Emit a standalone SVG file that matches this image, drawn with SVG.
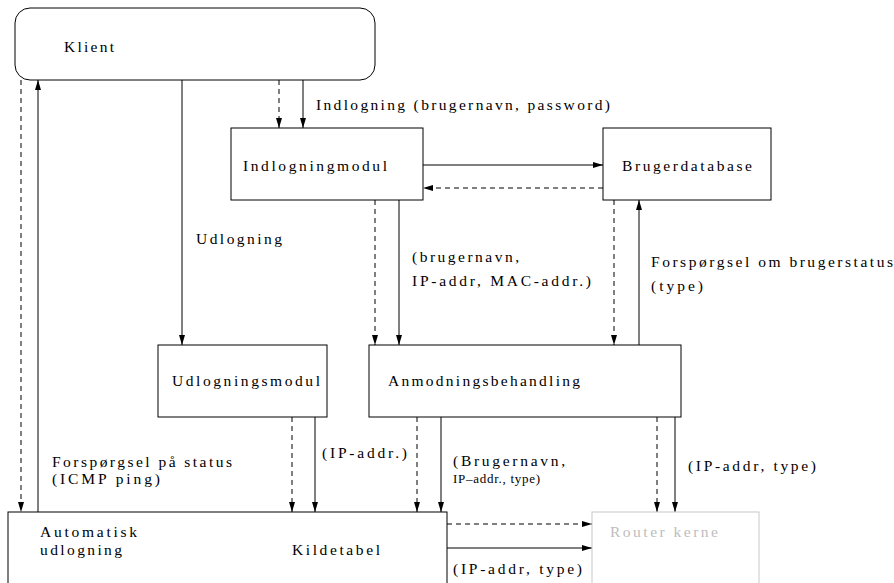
<svg xmlns="http://www.w3.org/2000/svg" width="894" height="583" viewBox="0 0 894 583">
<style>
  .box { fill: #fff; stroke: #000; stroke-width: 1; }
  .ghost { fill: #fff; stroke: #c8c8c8; stroke-width: 1; }
  .t { font-family: "Liberation Serif", "DejaVu Serif", serif; font-size: 15.5px; fill: #000; }
  .ts { font-family: "Liberation Serif", "DejaVu Serif", serif; font-size: 13px; fill: #000; }
  .tg { font-family: "Liberation Serif", "DejaVu Serif", serif; font-size: 15.5px; fill: #bdbdbd; }
  .c { fill: none; stroke: #000; stroke-width: 1; marker-end: url(#ah); }
  .d { stroke-dasharray: 5 4; }
</style>
<defs>
  <marker id="ah" viewBox="0 0 10 6" refX="10" refY="3" markerWidth="10" markerHeight="6" markerUnits="userSpaceOnUse" orient="auto">
    <path d="M0,0 L10,3 L0,6 Z" fill="#000"/>
  </marker>
</defs>

<g id="connectors">
  <path class="c d" d="M21,80 V512"/>
  <path class="c" d="M38,512 V80"/>
  <path class="c" d="M182,80 V345"/>
  <path class="c d" d="M279,80 V128"/>
  <path class="c" d="M303,80 V128"/>
  <path class="c" d="M423,165 H603"/>
  <path class="c d" d="M603,188 H423"/>
  <path class="c d" d="M375,200 V345"/>
  <path class="c" d="M399,200 V345"/>
  <path class="c d" d="M614,200 V345"/>
  <path class="c" d="M639,345 V200"/>
  <path class="c d" d="M292,417 V512"/>
  <path class="c" d="M315,417 V512"/>
  <path class="c d" d="M417,417 V512"/>
  <path class="c" d="M441,417 V512"/>
  <path class="c d" d="M657,417 V512"/>
  <path class="c" d="M675,417 V512"/>
  <path class="c d" d="M447,524 H592"/>
  <path class="c" d="M447,548 H592"/>
</g>

<g id="labels">
  <text class="t" x="316" y="110" textLength="294" lengthAdjust="spacing">Indlogning (brugernavn, password)</text>
  <text class="t" x="196" y="244" textLength="86" lengthAdjust="spacing">Udlogning</text>
  <text class="t" x="412" y="262" textLength="107" lengthAdjust="spacing">(brugernavn,</text>
  <text class="t" x="412" y="286" textLength="179" lengthAdjust="spacing">IP-addr, MAC-addr.)</text>
  <text class="t" x="651" y="267" textLength="242" lengthAdjust="spacing">Forspørgsel om brugerstatus</text>
  <text class="t" x="651" y="291" textLength="52" lengthAdjust="spacing">(type)</text>
  <text class="t" x="52" y="467" textLength="180" lengthAdjust="spacing">Forspørgsel på status</text>
  <text class="t" x="52" y="484" textLength="108" lengthAdjust="spacing">(ICMP ping)</text>
  <text class="t" x="322" y="458" textLength="85" lengthAdjust="spacing">(IP-addr.)</text>
  <text class="t" x="453" y="466" textLength="112" lengthAdjust="spacing">(Brugernavn,</text>
  <text class="ts" x="453" y="483" textLength="87" lengthAdjust="spacing">IP–addr., type)</text>
  <text class="t" x="688" y="471" textLength="128" lengthAdjust="spacing">(IP-addr, type)</text>
  <text class="t" x="453" y="574" textLength="129" lengthAdjust="spacing">(IP-addr, type)</text>
</g>

<g id="klient">
  <rect class="box" x="15" y="8" width="360" height="72" rx="15" ry="15"/>
  <text class="t" x="64" y="52" textLength="50" lengthAdjust="spacing">Klient</text>
</g>
<g id="indlogningmodul">
  <rect class="box" x="231" y="128" width="192" height="72"/>
  <text class="t" x="243" y="171" textLength="144" lengthAdjust="spacing">Indlogningmodul</text>
</g>
<g id="brugerdatabase">
  <rect class="box" x="603" y="128" width="168" height="72"/>
  <text class="t" x="622" y="171" textLength="130" lengthAdjust="spacing">Brugerdatabase</text>
</g>
<g id="udlogningsmodul">
  <rect class="box" x="158" y="345" width="169" height="72"/>
  <text class="t" x="172" y="386" textLength="148" lengthAdjust="spacing">Udlogningsmodul</text>
</g>
<g id="anmodningsbehandling">
  <rect class="box" x="369" y="345" width="312" height="72"/>
  <text class="t" x="388" y="386" textLength="192" lengthAdjust="spacing">Anmodningsbehandling</text>
</g>
<g id="kildetabel">
  <rect class="box" x="8" y="512" width="439" height="100"/>
  <text class="t" x="40" y="537" textLength="97" lengthAdjust="spacing">Automatisk</text>
  <text class="t" x="40" y="555" textLength="82" lengthAdjust="spacing">udlogning</text>
  <text class="t" x="292" y="555" textLength="88" lengthAdjust="spacing">Kildetabel</text>
</g>
<g id="router_kerne">
  <rect class="ghost" x="592" y="512" width="167" height="100"/>
  <text class="tg" x="610" y="537" textLength="108" lengthAdjust="spacing">Router kerne</text>
</g>
</svg>
